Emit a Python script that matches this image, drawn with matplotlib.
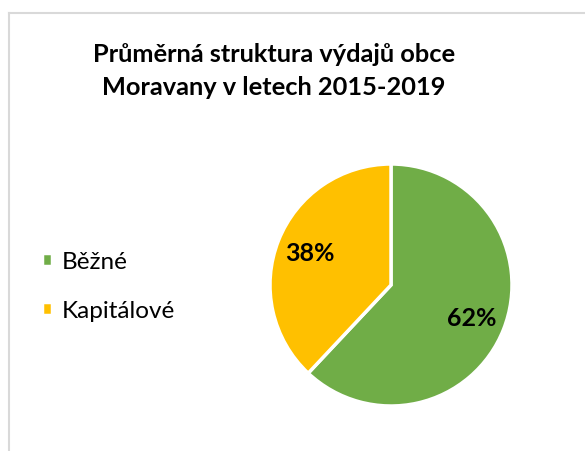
import matplotlib.pyplot as plt
from matplotlib.lines import Line2D

# chart data
labels = ['Běžné', 'Kapitálové']
shares = [62, 38]
colors = ['#70AD47', '#FFC000']
title_lines = ['Průměrná struktura výdajů obce', 'Moravany v letech 2015-2019']

W, H = 585, 452
plt.rcParams['font.family'] = ['Lato', 'DejaVu Sans']

fig = plt.figure(figsize=(W / 100, H / 100), dpi=100)
fig.patch.set_facecolor('white')

# light gray chart border (left and top visible)
border = '#D9D9D9'
fig.add_artist(Line2D([8.5 / W, 8.5 / W], [0, 1 - 13.5 / H], color=border, lw=1.5))
fig.add_artist(Line2D([8.5 / W, 1], [1 - 13.5 / H, 1 - 13.5 / H], color=border, lw=1.5))

# title, two lines
fig.text(274 / W, 1 - 62 / H, title_lines[0], ha='center', va='baseline',
         fontsize=18.3, fontweight='bold', color='black')
fig.text(274 / W, 1 - 95 / H, title_lines[1], ha='center', va='baseline',
         fontsize=18.3, fontweight='bold', color='black')

# pie
cx, cy, r = 391, 286, 121
ax = fig.add_axes([(cx - r) / W, (H - cy - r) / H, 2 * r / W, 2 * r / H])
wedges, texts, autotexts = ax.pie(
    shares, colors=colors, startangle=90, counterclock=False,
    autopct='%1.0f%%', pctdistance=0.72,
    wedgeprops=dict(edgecolor='white', linewidth=2.5),
    textprops=dict(fontsize=18, fontweight='bold', color='black'))
ax.set_xlim(-1, 1)
ax.set_ylim(-1, 1)
ax.set_aspect('equal')

# legend
fig.legend(wedges, labels, loc='center left', bbox_to_anchor=(42 / W, 1 - 287 / H),
           frameon=False, fontsize=17.5, handlelength=0.42, handleheight=0.42,
           handletextpad=0.4, labelspacing=1.15, borderpad=0, borderaxespad=0)

fig.savefig('out.png', dpi=100)
